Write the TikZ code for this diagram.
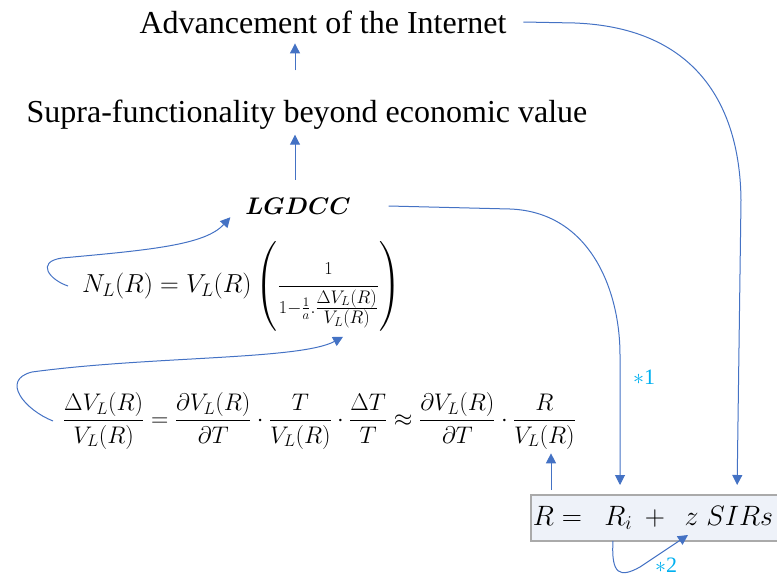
\RequirePackage{fix-cm}
\documentclass[tikz,border=0pt]{standalone}
\usepackage{fontspec}
\setmainfont{Liberation Serif}
\usepackage{amsmath}
\usetikzlibrary{
  arrows.meta,
  positioning,
  calc
}
\definecolor{linkblue}{HTML}{4472C4}
\definecolor{starcyan}{HTML}{00B0F0}
\definecolor{boxfill}{HTML}{EEF2F9}
\definecolor{boxline}{HTML}{AAAAAA}

\begin{document}
\begin{tikzpicture}[
    x=1pt, y=-1pt,
    every node/.style={inner sep=0pt, outer sep=0pt},
    caption/.style={font=\fontsize{32}{38}\selectfont},
    formula/.style={font=\fontsize{24}{29}\selectfont},
    sumbox/.style={
      rectangle, draw=boxline, fill=boxfill, line width=1.2pt,
      minimum width=250pt, minimum height=46pt,
      font=\fontsize{28}{34}\selectfont
    },
    link/.style={draw=linkblue, line width=1pt},
    arrow/.style={link, -{Triangle[length=10pt,width=10pt]}},
    star/.style={text=starcyan, font=\fontsize{22}{26}\selectfont},
  ]
  \useasboundingbox (0,0) rectangle (777,576);

  % --- Nodes ---
  \node[caption] (adv) at (323,22) {Advancement of the Internet};
  \node[caption] (supra) at (307,115)
    {Supra-functionality beyond economic value};
  \node[font=\fontsize{24}{29}\selectfont] (lgdcc)
    at (298,206) {$\boldsymbol{LGDCC}$};

  \node[formula, font=\fontsize{26}{31}\selectfont, anchor=west] (nl) at (82,286)
    {$N_L(R) = V_L(R)\left(\dfrac{\scriptstyle 1}{\scriptstyle 1-\frac{1}{a}.%
      \frac{\scriptstyle\Delta V_L(R)}{\scriptstyle V_L(R)}}\right)$};

  \node[formula, anchor=west] (dv) at (63,421)
    {$\dfrac{\Delta V_L(R)}{V_L(R)} = \dfrac{\partial V_L(R)}{\partial T}
      \cdot\dfrac{T}{V_L(R)}\cdot\dfrac{\Delta T}{T}
      \approx\dfrac{\partial V_L(R)}{\partial T}\cdot\dfrac{R}{V_L(R)}$};

  \node[sumbox, anchor=north west] (rbox) at (531,495)
    {\hspace{-6pt}$R =$\hspace{0.8em}$R_i$\hspace{0.45em}$+$\hspace{0.7em}$z\;SIRs$};

  % --- Routing coordinates ---
  \coordinate (spine) at (295,0);
  \coordinate (rise) at (551,0);
  \coordinate (dropA) at (620,0);
  \coordinate (dropB) at (737,0);

  % --- Arrows ---
  \draw[arrow, shorten <=30pt, shorten >=10pt]
    (supra.north -| spine) -- (adv.south -| spine);
  \draw[arrow, shorten <=18pt, shorten >=5pt]
    (lgdcc.north -| spine) -- (supra.south -| spine);

  \draw[arrow] ([xshift=-14pt]nl.west)
    .. controls (50,280) and (35,262) .. (62,258)
    .. controls (150,250) and (205,245) .. ($(lgdcc.south west)+(-15,3)$);

  \draw[arrow] ([xshift=-10pt]dv.west)
    .. controls (25,410) and (0,380) .. (32,372)
    .. controls (150,356) and (300,360) .. ($(nl.south east)+(-58,6)$);

  \draw[arrow, shorten <=5pt, shorten >=4pt]
    (rbox.north -| rise) -- (dv.south -| rise);

  % --- Loops into the sum ---
  \draw[arrow, shorten >=10pt] ([xshift=38pt]lgdcc.east) -- (510,209)
    .. controls (590,212) and (620,290) .. (620,355)
    -- (rbox.north -| dropA);
  \node[star] (s1) at (644,377) {$\ast$1};

  \draw[arrow, shorten >=10pt] ([xshift=17pt]adv.east) -- (575,23)
    .. controls (700,28) and (740,110) .. (741,200)
    -- (rbox.north -| dropB);

  \draw[arrow] ($(rbox.south west)+(82,0)$)
    .. controls (611,575) and (620,578) .. (640,567)
    -- ($(rbox.south west)+(157,-6)$);
  \node[star] (s2) at (666,565) {$\ast$2};
\end{tikzpicture}
\end{document}
